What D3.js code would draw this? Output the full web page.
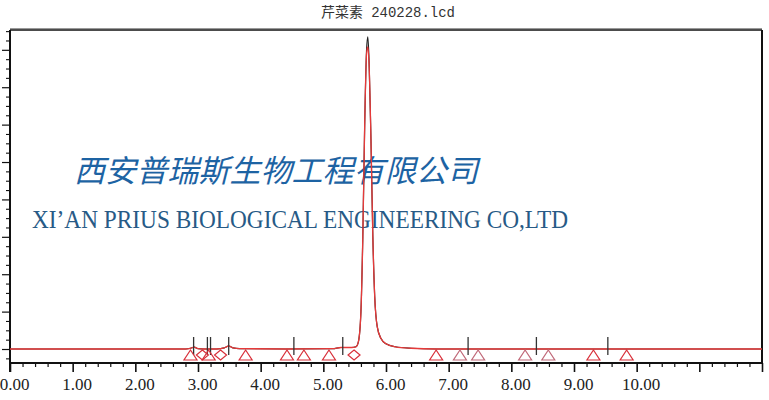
<!DOCTYPE html>
<html>
<head>
<meta charset="utf-8">
<script src="https://cdn.jsdelivr.net/npm/d3@7"></script>
<style>
  body { margin: 0; background: #fff; }
  svg { display: block; }
</style>
</head>
<body>
<div class="display"></div>
<script>
// chromatogram title and watermark text
const title = "芹菜素 240228.lcd";
const watermarkCn = "西安普瑞斯生物工程有限公司";
const watermarkEn = "XI\u2019AN PRIUS BIOLOGICAL ENGINEERING CO,LTD";

// retention time (min) and detector signal
const times = [0, 2.8, 2.88, 2.94, 3.0, 3.1, 3.3, 3.42, 3.49, 3.56, 3.66, 4.4, 5.15, 5.28, 5.45, 5.52,
  5.56, 5.6, 5.63, 5.66, 5.69, 5.71, 5.73, 5.76, 5.79, 5.82, 5.86, 5.92, 6.0, 6.15, 6.4, 6.8, 12];
const redSignal = [0, 0, 2, 5, 1, 0, 0, 3, 8, 3, 1, 0, 1, 4, 4, 6,
  20, 100, 300, 600, 790, 808, 760, 560, 300, 140, 60, 28, 14, 6, 2, 0, 0];
const blackSignal = [0, 0, 2, 5, 1, 0, 0, 3, 8, 3, 1, 0, 1, 4, 4, 6,
  20, 100, 300, 600, 800, 835, 770, 560, 300, 140, 60, 28, 14, 6, 2, 0, 0];

// integration marks along the baseline
const markTimes = [2.93, 3.15, 3.20, 3.49, 4.53, 5.31, 7.31, 8.40, 9.54];
const triangleTimes = [2.88, 3.17, 3.76, 4.42, 4.69, 5.09, 6.80, 9.31, 9.84];
const paleTriangleTimes = [7.18, 7.47, 8.22, 8.59];
const diamondTimes = [3.07, 3.36, 5.49];

// axis ticks
const xMajor = d3.range(0, 13, 1);
const xMinor = d3.range(0, 12.01, 0.2).filter(v => Math.abs(v - Math.round(v)) > 0.01);
const xLabelled = d3.range(0, 11, 1);
const yMajor = d3.range(0, 900, 100);
const yMinor = d3.range(-25, 860, 25).filter(v => v % 100 !== 0);

const width = 769, height = 400;
const plot = { left: 10, right: 762, top: 30, bottom: 363 };

const svg = d3.select(".display").append("svg")
  .attr("width", width)
  .attr("height", height);

svg.append("rect").attr("width", width).attr("height", height).attr("fill", "#fff");

const x = d3.scaleLinear().domain([0, 12]).range([plot.left, plot.right]);
const y = d3.scaleLinear().domain([-37.4, 853]).range([plot.bottom, plot.top]);

//title
svg.append("text")
  .attr("x", 388).attr("y", 17)
  .attr("text-anchor", "middle")
  .attr("font-family", "'Liberation Mono', 'Noto Sans CJK SC', monospace")
  .attr("font-size", 14)
  .attr("fill", "#333")
  .attr("textLength", 134)
  .attr("lengthAdjust", "spacingAndGlyphs")
  .text(title);

//watermark
svg.append("text")
  .attr("x", 74).attr("y", 182)
  .attr("font-family", "'Noto Sans CJK SC', sans-serif")
  .attr("font-style", "italic")
  .attr("font-size", 31)
  .attr("fill", "#1d63a3")
  .attr("textLength", 404)
  .attr("lengthAdjust", "spacingAndGlyphs")
  .text(watermarkCn);

svg.append("text")
  .attr("x", 32).attr("y", 228)
  .attr("font-family", "'Liberation Serif', serif")
  .attr("font-size", 25)
  .attr("fill", "#275a86")
  .attr("textLength", 536)
  .attr("lengthAdjust", "spacingAndGlyphs")
  .text(watermarkEn);

//frame (top and right)
svg.append("line")
  .attr("x1", plot.left).attr("x2", plot.right)
  .attr("y1", plot.top - 1.5).attr("y2", plot.top - 1.5)
  .attr("stroke", "#999").attr("stroke-width", 1);
svg.append("line")
  .attr("x1", plot.left).attr("x2", plot.right)
  .attr("y1", plot.top).attr("y2", plot.top)
  .attr("stroke", "#111").attr("stroke-width", 1.6);
svg.append("line")
  .attr("x1", plot.right).attr("x2", plot.right)
  .attr("y1", plot.top).attr("y2", plot.bottom)
  .attr("stroke", "#111").attr("stroke-width", 2);

//x axis
const xMinorAxis = d3.axisBottom(x).tickValues(xMinor).tickSize(4).tickFormat("");
const xMajorAxis = d3.axisBottom(x).tickValues(xMajor).tickSize(9)
  .tickFormat(d => xLabelled.includes(d) ? d3.format(".2f")(d) : "");

svg.append("g")
  .attr("transform", `translate(0,${plot.bottom})`)
  .call(xMinorAxis)
  .call(g => g.select(".domain").remove())
  .selectAll("line").attr("stroke", "#111").attr("stroke-width", 1.2);

const xg = svg.append("g")
  .attr("transform", `translate(0,${plot.bottom})`)
  .call(xMajorAxis);
xg.select(".domain").attr("stroke", "#111").attr("stroke-width", 2).attr("d", `M${plot.left},0H${plot.right}`);
xg.selectAll("line").attr("stroke", "#111").attr("stroke-width", 1.6);
xg.selectAll("text")
  .attr("y", 27)
  .attr("dy", 0)
  .attr("dx", 4)
  .attr("font-family", "'Liberation Serif', serif")
  .attr("font-size", 17)
  .attr("fill", "#222");

//y axis (no labels)
const yg = svg.append("g").attr("transform", `translate(${plot.left},0)`);
yg.call(d3.axisLeft(y).tickValues(yMinor).tickSize(4).tickFormat(""))
  .call(g => g.select(".domain").remove())
  .selectAll("line").attr("stroke", "#111").attr("stroke-width", 1.1);
const yg2 = svg.append("g").attr("transform", `translate(${plot.left},0)`)
  .call(d3.axisLeft(y).tickValues(yMajor).tickSize(8).tickFormat(""));
yg2.select(".domain").attr("stroke", "#111").attr("stroke-width", 2).attr("d", `M0,${plot.top}V${plot.bottom + 9}`);
yg2.selectAll("line").attr("stroke", "#111").attr("stroke-width", 1.2);

//traces
const line = (vals) => d3.line()
  .x((d, i) => x(times[i]))
  .y(d => y(d))
  .curve(d3.curveMonotoneX)(vals);

svg.append("path")
  .attr("d", line(blackSignal))
  .attr("fill", "none")
  .attr("stroke", "#222")
  .attr("stroke-width", 1.2);

svg.append("path")
  .attr("d", line(redSignal))
  .attr("fill", "none")
  .attr("stroke", "#e63a3a")
  .attr("stroke-width", 1.3);

//baseline marks
const base = y(0);
svg.selectAll(".mark").data(markTimes).enter()
  .append("line")
  .attr("class", "mark")
  .attr("x1", d => x(d)).attr("x2", d => x(d))
  .attr("y1", base - 12).attr("y2", base + 6)
  .attr("stroke", "#333").attr("stroke-width", 1.3);

const tri = d => `M${x(d)},${base + 1}L${x(d) + 6.5},${base + 11}L${x(d) - 6.5},${base + 11}Z`;
svg.selectAll(".tri").data(triangleTimes).enter()
  .append("path")
  .attr("class", "tri")
  .attr("d", tri)
  .attr("fill", "none")
  .attr("stroke", "#d8303a")
  .attr("stroke-width", 1.2);

svg.selectAll(".tri-pale").data(paleTriangleTimes).enter()
  .append("path")
  .attr("class", "tri-pale")
  .attr("d", tri)
  .attr("fill", "none")
  .attr("stroke", "#c06878")
  .attr("stroke-width", 1.2);

svg.selectAll(".dia").data(diamondTimes).enter()
  .append("path")
  .attr("class", "dia")
  .attr("d", d => `M${x(d)},${base + 1}L${x(d) + 6},${base + 6}L${x(d)},${base + 11}L${x(d) - 6},${base + 6}Z`)
  .attr("fill", "none")
  .attr("stroke", "#d8303a")
  .attr("stroke-width", 1.2);
</script>
</body>
</html>
